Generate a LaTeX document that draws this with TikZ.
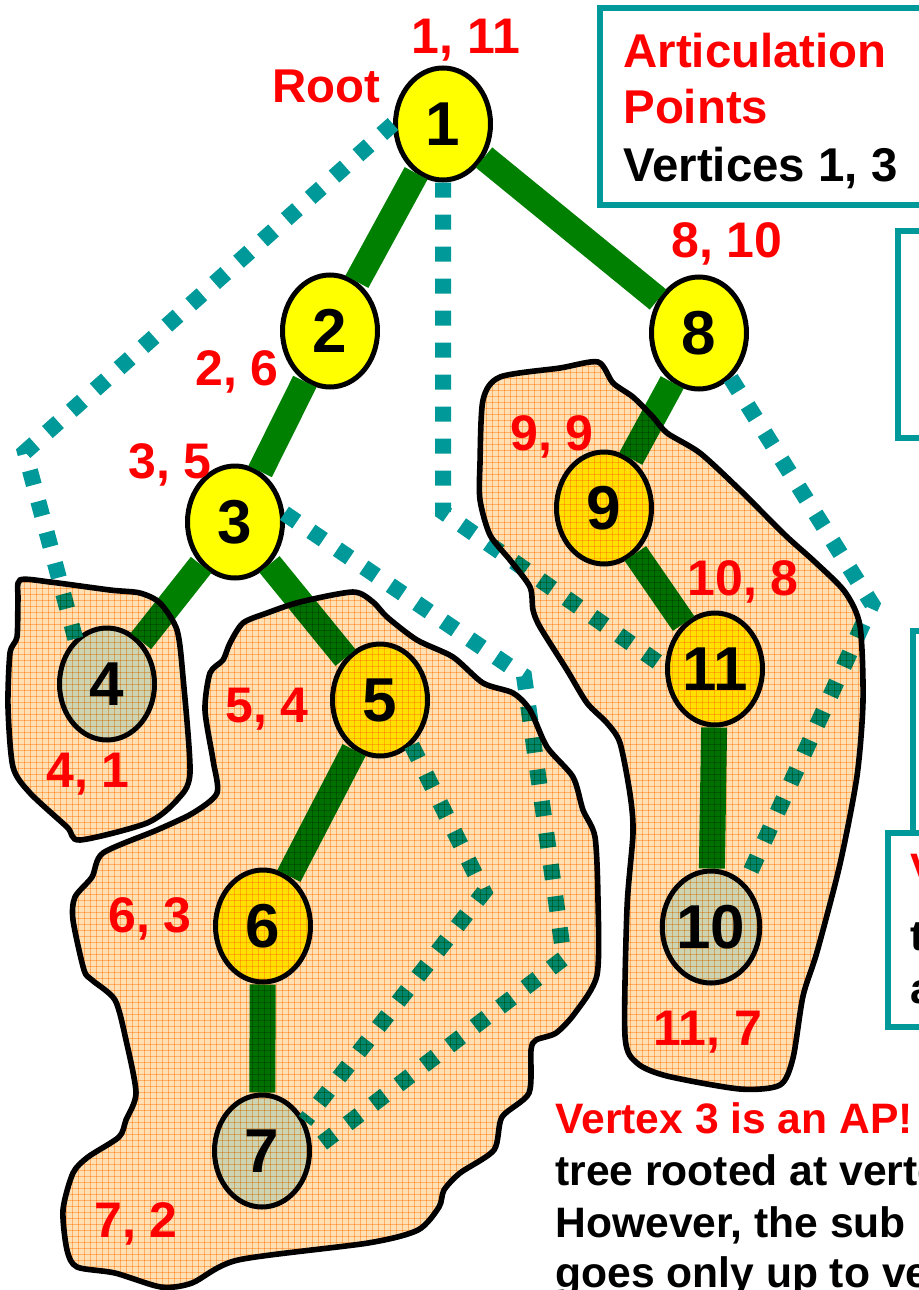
\documentclass[tikz,border=0pt]{standalone}
\usepackage{fontspec}
\setmainfont{Liberation Sans}
\usetikzlibrary{shapes.geometric,patterns}
\definecolor{apyellow}{RGB}{255,255,0}
\definecolor{apgreen}{RGB}{0,128,0}
\definecolor{apteal}{RGB}{0,153,153}
\definecolor{apred}{RGB}{255,0,0}
\definecolor{apleaf}{RGB}{205,242,255}
\definecolor{blobpeach}{RGB}{255,224,180}
\definecolor{blobgrid}{RGB}{255,200,140}
\tikzset{
  dfsnode/.style={
    ellipse,
    draw=black,
    line width=2.5pt,
    fill=apyellow,
    inner sep=0pt,
    minimum width=47.5pt,
    minimum height=56pt,
    font=\bfseries\fontsize{31}{31}\selectfont
  },
  leafnode/.style={dfsnode, fill=apleaf},
  treeedge/.style={draw=apgreen, line width=13pt},
  backedge/.style={draw=apteal, line width=8pt, dash pattern=on 7.5pt off 8.5pt},
  numlabel/.style={text=apred, anchor=base, inner sep=0pt, font=\bfseries\fontsize{25}{25}\selectfont},
  component/.style={
    draw=black,
    line width=2.8pt,
    fill=blobpeach,
    postaction={pattern=grid, pattern color=blobgrid}
  },
  notebox/.style={draw=apteal, line width=3pt, fill=white},
  notetext/.style={anchor=base west, inner sep=0pt, font=\bfseries\fontsize{23.7}{28}\selectfont},
  bottomtext/.style={notetext, font=\bfseries\fontsize{21.3}{26}\selectfont}
}
\begin{document}
\begin{tikzpicture}[x=0.5pt, y=-0.5pt]
        \useasboundingbox (0,0) rectangle (919,1290);
        \clip (0,0) rectangle (919,1290);

        \node[dfsnode] (n1) at (443,124) {1};
        \node[dfsnode] (n2) at (330,331) {2};
        \node[dfsnode] (n3) at (235,522) {3};
        \node[leafnode] (n4) at (107,684) {4};
        \node[dfsnode] (n5) at (380,700) {5};
        \node[dfsnode] (n6) at (263,926) {6};
        \node[leafnode] (n7) at (262,1151) {7};
        \node[dfsnode] (n8) at (699,333) {8};
        \node[dfsnode] (n9) at (604,508) {9};
        \node[dfsnode] (n11) at (715,669) {11};
        \node[leafnode] (n10) at (711,927) {10};

        \draw[treeedge] (n1) -- (n2) (n2) -- (n3) (n3) -- (n4) (n3) -- (n5)
            (n5) -- (n6) (n6) -- (n7) (n1) -- (n8) (n8) -- (n9) (n9) -- (n11) (n11) -- (n10);

        \coordinate (c1) at (25,452);
        \coordinate (c2) at (443,512);
        \coordinate (c3) at (524,676);
        \coordinate (c4) at (564,958);
        \coordinate (c5) at (484,892);
        \coordinate (c6) at (872,604);
        \draw[backedge] (n1.west) -- (c1) -- (n4.125);
        \draw[backedge] (n1.south) -- (c2) -- (n11.178);
        \draw[backedge] (n3.10) -- (c3) -- (c4) -- (n7.east);
        \draw[backedge] (n5.-55) -- (c5) -- (n7.35);
        \draw[backedge] (n8.-55) -- (c6) -- (n10.52);

        \node[numlabel] (l1) at (466,53) {1, 11};
        \node[numlabel, font=\bfseries\fontsize{23.7}{24}\selectfont] (lroot) at (326,102) {Root};
        \node[numlabel] (l2) at (237,385) {2, 6};
        \node[numlabel] (l3) at (170,478) {3, 5};
        \node[numlabel] (l8) at (727,257) {8, 10};
        \node[numlabel] (l9) at (552,450) {9, 9};
        \node[numlabel] (l11) at (743,595) {10, 8};
        \node[numlabel] (l10) at (708,1045) {11, 7};
        \node[numlabel] (l4) at (88,787) {4, 1};
        \node[numlabel] (l5) at (267,722) {5, 4};
        \node[numlabel] (l6) at (150,932) {6, 3};
        \node[numlabel] (l7) at (136,1237) {7, 2};

        % biconnected pieces, laid over what is under them
        \begin{scope}[blend mode=multiply]
        \path[component] plot[smooth cycle, tension=0.45] coordinates {
            (20,580) (50,582) (110,590) (140,593) (160,603) (177,630) (183,677) (190,773)
            (177,800) (147,823) (80,840) (67,827) (30,793) (13,767) (8,707) (10,653) (17,637) (18,600)};
        \path[component] plot[smooth cycle, tension=0.45] coordinates {
            (243,623) (267,613) (300,602) (353,592) (373,602) (387,617) (417,640) (453,657)
            (483,683) (513,693) (530,710) (547,747) (573,777) (583,810) (595,837) (598,900)
            (597,975) (575,1013) (556,1033) (536,1040) (531,1050) (529,1093) (502,1117) (494,1150)
            (460,1173) (444,1190) (439,1207) (418,1230) (368,1243) (238,1260) (192,1283) (161,1287)
            (115,1273) (77,1267) (67,1250) (63,1210) (73,1173) (88,1157) (119,1137) (126,1120)
            (136,1093) (126,1040) (115,1000) (92,980) (84,970) (73,920) (75,897) (92,877)
            (103,853) (157,830) (193,813) (217,793) (213,760) (205,710) (210,673) (223,660) (230,643)};
        \path[component] plot[smooth cycle, tension=0.45] coordinates {
            (483,400) (500,377) (560,368) (598,362) (613,383) (633,397) (653,417) (667,433)
            (700,453) (740,490) (785,535) (815,562) (845,592) (860,626) (863,701) (857,776)
            (840,864) (817,952) (803,996) (793,1058) (780,1085) (740,1089) (667,1076) (637,1063)
            (625,1036) (627,908) (633,833) (630,794) (620,743) (607,723) (587,703) (567,670)
            (540,627) (533,610) (530,587) (510,560) (490,535) (480,500) (480,463)};
        \end{scope}

        \draw[notebox] (600,7.5) rectangle (940,204.5);
        \node[notetext, text=apred] (tart) at (623,67) {Articulation};
        \node[notetext, text=apred] (tpts) at (623,123) {Points};
        \node[notetext] (tvtx) at (623,181) {Vertices 1, 3};

        \draw[notebox] (898,230.5) rectangle (940,438);
        \draw[notebox] (913,630.5) rectangle (940,832.5);
        \draw[notebox] (888,832.5) rectangle (940,1027);
        \node[bottomtext, text=apred] (tv) at (910,883) {V};
        \node[bottomtext] (tt) at (910,950) {t};
        \node[bottomtext] (ta) at (910,1003) {a};

        \node[bottomtext, text=apred] (tap) at (555,1133) {Vertex 3 is an AP!};
        \node[bottomtext] (tl1) at (555,1185) {tree rooted at verte};
        \node[bottomtext] (tl2) at (555,1237) {However, the sub};
        \node[bottomtext] (tl3) at (555,1287) {goes only up to ve};
\end{tikzpicture}
\end{document}
